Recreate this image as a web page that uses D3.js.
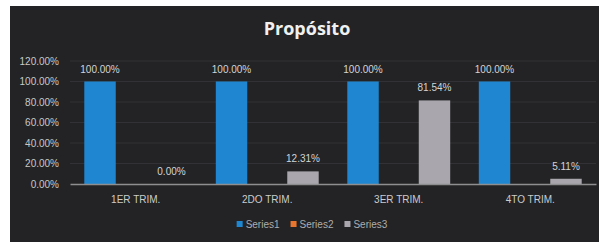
<!DOCTYPE html>
<html>
<head>
<meta charset="utf-8">
<script src="https://cdn.jsdelivr.net/npm/d3@7"></script>
<style>
  body { margin: 0; background: #fff; }
  text { font-family: "Liberation Sans", Arial, sans-serif; }
</style>
</head>
<body>
<div id="chart"></div>
<script>
// Data
const categories = ['1ER TRIM.', '2DO TRIM.', '3ER TRIM.', '4TO TRIM.'];
const seriesNames = ['Series1', 'Series2', 'Series3'];
const series1 = [100, 100, 100, 100];
const series2 = [null, null, null, null];
const series3 = [0, 12.31, 81.54, 5.11];
const yTicks = [0, 20, 40, 60, 80, 100, 120];
const colors = ['#1f87d2', '#e8762f', '#a9a7ad'];

const W = 599, H = 242;
const plot = { left: 70, right: 596, top: 61, bottom: 184 };

const svg = d3.select('#chart')
    .append('svg')
    .attr('width', W)
    .attr('height', H);

// Dark chart area (photo has a white edge on left/top)
svg.append('rect')
    .attr('x', 10).attr('y', 6)
    .attr('width', W - 10).attr('height', H - 6)
    .attr('fill', '#232325');

svg.append('text')
    .attr('x', 307).attr('y', 35)
    .attr('text-anchor', 'middle')
    .attr('font-size', 18)
    .attr('font-weight', 'bold')
    .style('font-family', '"Open Sans", sans-serif')
    .attr('fill', '#f0f0f0')
    .text('Propósito');

const x0 = d3.scaleBand()
    .domain(categories)
    .range([plot.left, plot.right])
    .padding(0);

const x1 = d3.scaleBand()
    .domain(seriesNames)
    .range([0, x0.bandwidth()])
    .paddingInner(0.12)
    .paddingOuter(0.4);

const yScale = d3.scaleLinear()
    .domain([0, 120])
    .range([plot.bottom, plot.top]);

// Gridlines
svg.append('g')
    .selectAll('line')
    .data(yTicks.filter(t => t > 0))
    .join('line')
    .attr('x1', plot.left).attr('x2', plot.right)
    .attr('y1', d => yScale(d)).attr('y2', d => yScale(d))
    .attr('stroke', '#323236')
    .attr('stroke-width', 1);

// Y axis labels
const yAxis = d3.axisLeft(yScale)
    .tickValues(yTicks)
    .tickFormat(d => d.toFixed(2) + '%')
    .tickSize(0)
    .tickPadding(11);

svg.append('g')
    .attr('transform', `translate(${plot.left}, 0)`)
    .call(yAxis)
    .call(g => g.select('.domain').remove())
    .call(g => g.selectAll('text')
        .attr('fill', '#c8c8c8')
        .attr('font-size', 10)
        .style('font-family', '"Liberation Sans", sans-serif'));

// Bars
const rows = categories.map((c, i) => ({
    category: c,
    values: [series1[i], series2[i], series3[i]].map((v, j) => ({ series: seriesNames[j], value: v, color: colors[j] }))
}));

const groups = svg.append('g')
    .selectAll('g')
    .data(rows)
    .join('g')
    .attr('transform', d => `translate(${x0(d.category)}, 0)`);

groups.selectAll('rect')
    .data(d => d.values.filter(v => v.value != null))
    .join('rect')
    .attr('x', d => x1(d.series))
    .attr('y', d => yScale(d.value))
    .attr('width', x1.bandwidth())
    .attr('height', d => plot.bottom - yScale(d.value))
    .attr('fill', d => d.color);

groups.selectAll('text')
    .data(d => d.values.filter(v => v.value != null))
    .join('text')
    .attr('x', d => x1(d.series) + x1.bandwidth() / 2)
    .attr('y', d => yScale(d.value) - 9)
    .attr('text-anchor', 'middle')
    .attr('font-size', 10)
    .attr('fill', '#d4d4d4')
    .text(d => d.value.toFixed(2) + '%');

// X axis
const xAxis = d3.axisBottom(x0).tickSize(0).tickPadding(12);
svg.append('g')
    .attr('transform', `translate(0, ${plot.bottom})`)
    .call(xAxis)
    .call(g => g.select('.domain').attr('stroke', '#8e8e90').attr('stroke-width', 1.5))
    .call(g => g.selectAll('text')
        .attr('fill', '#cccccc')
        .attr('font-size', 10)
        .style('font-family', '"Liberation Sans", sans-serif'));

// Legend
const legend = svg.append('g').attr('transform', 'translate(0, 225)');
const items = legend.selectAll('g')
    .data(seriesNames)
    .join('g');
items.append('rect')
    .attr('y', -4).attr('width', 6).attr('height', 6)
    .attr('fill', (d, i) => colors[i]);
items.append('text')
    .attr('x', 9).attr('y', 3)
    .attr('font-size', 10)
    .attr('fill', '#adadad')
    .text(d => d);

const gap = 11;
const widths = [];
items.each(function () {
    widths.push(this.querySelector('text').getComputedTextLength() + 9);
});
const totalW = d3.sum(widths) + gap * (widths.length - 1);
let lx = 312 - totalW / 2;
items.attr('transform', (d, i) => {
    const t = `translate(${lx}, 0)`;
    lx += widths[i] + gap;
    return t;
});
</script>
</body>
</html>
